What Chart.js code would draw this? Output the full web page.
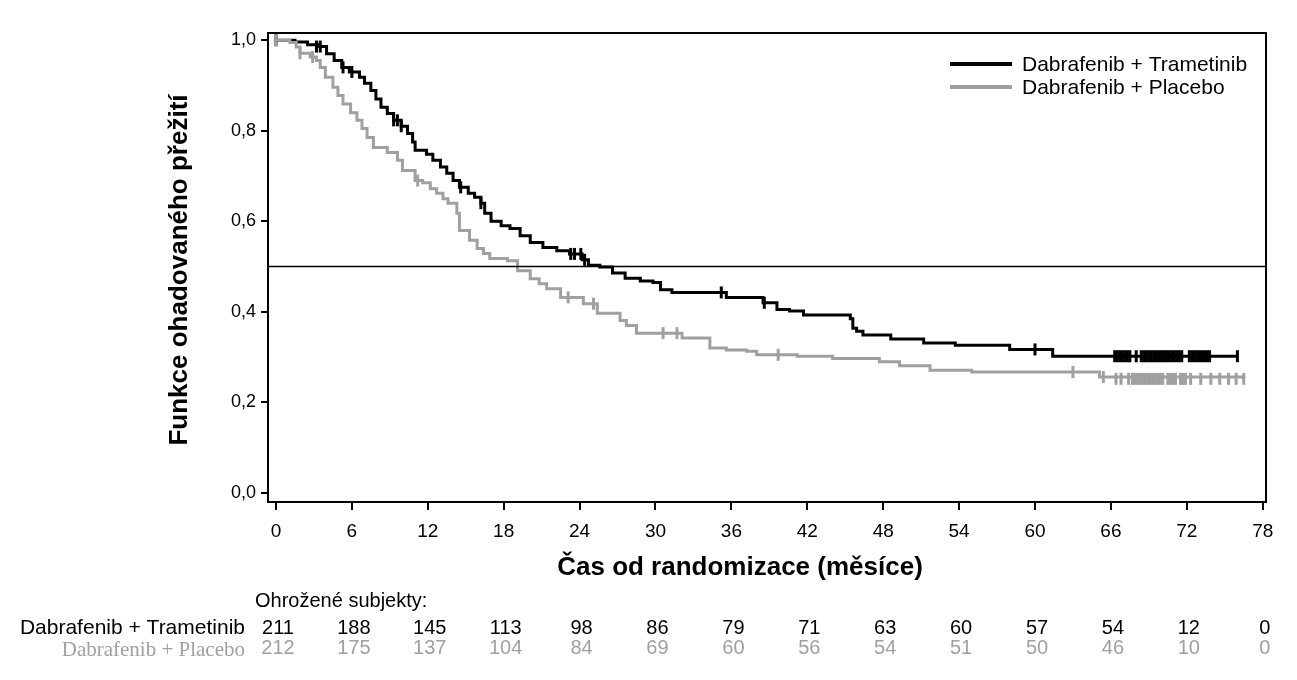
<!DOCTYPE html>
<html>
<head>
<meta charset="utf-8">
<script src="https://cdn.jsdelivr.net/npm/chart.js@4/dist/chart.umd.min.js"></script>
<style>
  html, body { margin: 0; padding: 0; background: #fff; }
  #wrap { width: 1297px; height: 680px; }
</style>
</head>
<body>
<div id="wrap"><canvas id="km" width="1297" height="680"></canvas></div>
<script>
// time axis (months) and risk table
var xTicks = [0, 6, 12, 18, 24, 30, 36, 42, 48, 54, 60, 66, 72, 78];
var yTicks = [0, 0.2, 0.4, 0.6, 0.8, 1.0];
var riskDT = [211, 188, 145, 113, 98, 86, 79, 71, 63, 60, 57, 54, 12, 0];
var riskDP = [212, 175, 137, 104, 84, 69, 60, 56, 54, 51, 50, 46, 10, 0];

// Kaplan-Meier curves: [month, survival]
var curveDT = [[0,1.0],[1.5,0.996],[2.5,0.99],[3.3,0.986],[4.0,0.97],[4.6,0.955],[5.2,0.94],[5.8,0.93],
  [6.6,0.918],[7.0,0.905],[7.5,0.889],[7.9,0.87],[8.3,0.852],[8.8,0.838],[9.3,0.823],[9.9,0.81],
  [10.4,0.794],[10.8,0.775],[11.0,0.757],[11.9,0.748],[12.4,0.735],[13.0,0.72],[13.5,0.706],[14.0,0.69],
  [14.5,0.675],[15.2,0.662],[15.7,0.653],[16.2,0.64],[16.5,0.618],[17.0,0.6],[17.8,0.59],[18.5,0.584],
  [19.3,0.568],[20.1,0.553],[21.1,0.542],[22.2,0.535],[23.2,0.528],[24.2,0.515],[24.7,0.503],[25.6,0.499],
  [26.6,0.486],[27.6,0.474],[28.8,0.468],[29.8,0.465],[30.4,0.449],[31.3,0.443],[35.6,0.432],[38.5,0.42],
  [39.6,0.405],[40.6,0.402],[41.7,0.393],[45.4,0.385],[45.6,0.364],[45.9,0.357],[46.4,0.349],[48.6,0.34],
  [51.2,0.331],[53.7,0.326],[58.0,0.317],[61.4,0.302],[76.0,0.302]];
var curveDP = [[0,1.0],[1.1,0.995],[1.6,0.985],[1.9,0.971],[2.7,0.963],[3.2,0.955],[3.5,0.94],[3.9,0.918],
  [4.5,0.896],[4.9,0.878],[5.3,0.859],[5.9,0.84],[6.4,0.823],[6.8,0.805],[7.2,0.785],[7.7,0.763],
  [8.8,0.752],[9.6,0.735],[10.0,0.712],[11.0,0.69],[11.6,0.685],[12.2,0.672],[12.7,0.662],[13.2,0.65],
  [13.6,0.64],[14.3,0.618],[14.5,0.58],[15.3,0.558],[15.9,0.54],[16.4,0.529],[16.9,0.518],[18.3,0.513],
  [19.1,0.491],[20.1,0.473],[20.8,0.462],[21.4,0.451],[22.5,0.432],[24.3,0.418],[25.4,0.397],[27.2,0.381],
  [27.7,0.37],[28.5,0.353],[32.1,0.342],[34.3,0.32],[35.6,0.316],[37.2,0.313],[38.0,0.305],[41.2,0.302],
  [44.0,0.297],[47.7,0.29],[49.3,0.281],[51.7,0.271],[55.0,0.267],[65.1,0.256],[76.5,0.252]];

// censored observations
var censDT = [[0,1.0],[3.2,0.986],[3.5,0.986],[5.3,0.94],[6.0,0.93],[9.3,0.823],[9.6,0.823],[9.9,0.81],
  [14.6,0.675],[16.2,0.64],[23.3,0.528],[23.6,0.528],[24.1,0.528],[24.4,0.515],[35.2,0.443],[38.6,0.42],
  [60.0,0.317],[66.3,0.302],[66.5,0.302],[66.7,0.302],[66.9,0.302],[67.1,0.302],[67.3,0.302],[67.5,0.302],
  [68.0,0.302],[68.4,0.302],[68.6,0.302],[68.8,0.302],[69.0,0.302],[69.2,0.302],[69.4,0.302],[69.6,0.302],
  [69.8,0.302],[70.0,0.302],[70.2,0.302],[70.4,0.302],[70.6,0.302],[70.8,0.302],[71.0,0.302],[71.2,0.302],
  [71.4,0.302],[71.6,0.302],[72.2,0.302],[72.4,0.302],[72.6,0.302],[72.8,0.302],[73.0,0.302],[73.2,0.302],
  [73.4,0.302],[73.6,0.302],[73.8,0.302],[76.0,0.302]];
var censDP = [[0,1.0],[1.9,0.971],[2.9,0.963],[11.2,0.69],[23.1,0.432],[25.1,0.418],[30.6,0.353],[31.7,0.353],
  [39.7,0.305],[63.0,0.267],[65.4,0.256],[66.4,0.252],[66.8,0.252],[67.4,0.252],[67.7,0.252],[67.9,0.252],
  [68.1,0.252],[68.3,0.252],[68.5,0.252],[68.7,0.252],[68.9,0.252],[69.1,0.252],[69.3,0.252],[69.5,0.252],
  [69.7,0.252],[69.9,0.252],[70.1,0.252],[70.5,0.252],[70.7,0.252],[70.9,0.252],[71.1,0.252],[71.5,0.252],
  [71.7,0.252],[71.9,0.252],[72.3,0.252],[73.1,0.252],[73.9,0.252],[74.6,0.252],[75.3,0.252],[75.9,0.252],
  [76.5,0.252]];

var BLACK = '#000000';
var GREY = '#a0a0a0';
var SANS = '"Liberation Sans", Arial, sans-serif';
var SERIF = '"Liberation Serif", "Times New Roman", serif';
var X_MIN = -0.63, X_MAX = 78.26;

function pts(arr) { return arr.map(function (p) { return { x: p[0], y: p[1] }; }); }

var extras = {
  id: 'extras',
  afterDraw: function (chart) {
    var c = chart.ctx, a = chart.chartArea, xs = chart.scales.x;
    c.save();
    // frame
    c.strokeStyle = BLACK;
    c.lineWidth = 2;
    c.strokeRect(a.left, a.top, a.right - a.left, a.bottom - a.top);

    // legend
    c.lineWidth = 4;
    c.beginPath(); c.moveTo(950, 64); c.lineTo(1012, 64); c.stroke();
    c.strokeStyle = GREY;
    c.beginPath(); c.moveTo(950, 87); c.lineTo(1012, 87); c.stroke();
    c.fillStyle = BLACK;
    c.font = '21px ' + SANS;
    c.textBaseline = 'middle';
    c.textAlign = 'left';
    c.fillText('Dabrafenib + Trametinib', 1022, 65);
    c.fillText('Dabrafenib + Placebo', 1022, 88);

    // axis titles
    c.font = 'bold 26px ' + SANS;
    c.textAlign = 'center';
    c.fillText('Čas od randomizace (měsíce)', 740, 568);
    c.save();
    c.translate(180, 270);
    c.rotate(-Math.PI / 2);
    c.fillText('Funkce ohadovaného přežití', 0, 0);
    c.restore();

    // risk table
    c.font = '20px ' + SANS;
    c.textAlign = 'left';
    c.fillText('Ohrožené subjekty:', 255, 601);
    c.textAlign = 'right';
    c.font = '21px ' + SANS;
    c.fillText('Dabrafenib + Trametinib', 245, 628);
    c.fillStyle = GREY;
    c.font = '21px ' + SERIF;
    c.fillText('Dabrafenib + Placebo', 245, 650);
    c.textAlign = 'center';
    c.font = '20px ' + SANS;
    xTicks.forEach(function (t, i) {
      var px = xs.getPixelForValue(t) + 2;
      c.fillStyle = BLACK;
      c.fillText(String(riskDT[i]), px, 628);
      c.fillStyle = GREY;
      c.fillText(String(riskDP[i]), px, 648);
    });
    c.restore();
  }
};

new Chart(document.getElementById('km'), {
  type: 'line',
  data: {
    datasets: [
      { data: [{ x: X_MIN, y: 0.5 }, { x: X_MAX, y: 0.5 }], borderColor: BLACK, borderWidth: 1.5, pointRadius: 0 },
      { data: pts(curveDP), borderColor: GREY, borderWidth: 3, pointRadius: 0, stepped: 'before' },
      { data: pts(curveDT), borderColor: BLACK, borderWidth: 3, pointRadius: 0, stepped: 'before' },
      { type: 'scatter', data: pts(censDP), showLine: false, pointStyle: 'line', rotation: 90, pointRadius: 6,
        borderColor: GREY, backgroundColor: GREY, pointBorderWidth: 3, clip: false },
      { type: 'scatter', data: pts(censDT), showLine: false, pointStyle: 'line', rotation: 90, pointRadius: 6,
        borderColor: BLACK, backgroundColor: BLACK, pointBorderWidth: 3, clip: false }
    ]
  },
  options: {
    responsive: false,
    animation: false,
    devicePixelRatio: 1,
    layout: { padding: { left: 0, top: 33, right: 31, bottom: 0 } },
    plugins: { legend: { display: false }, tooltip: { enabled: false } },
    scales: {
      x: {
        type: 'linear', min: X_MIN, max: X_MAX,
        afterBuildTicks: function (s) { s.ticks = xTicks.map(function (v) { return { value: v }; }); },
        afterFit: function (s) { s.height = 178; },
        grid: { drawOnChartArea: false, drawTicks: true, tickLength: 8, color: BLACK, lineWidth: 2 },
        border: { display: true, color: BLACK, width: 2 },
        ticks: { color: BLACK, font: { family: SANS, size: 19 }, padding: 10, maxRotation: 0, autoSkip: false }
      },
      y: {
        type: 'linear', min: -0.02, max: 1.016,
        afterBuildTicks: function (s) { s.ticks = yTicks.map(function (v) { return { value: v }; }); },
        afterFit: function (s) { s.width = 268; },
        grid: { drawOnChartArea: false, drawTicks: true, tickLength: 7, color: BLACK, lineWidth: 2 },
        border: { display: true, color: BLACK, width: 2 },
        ticks: {
          color: BLACK, font: { family: SANS, size: 18 }, padding: 5,
          callback: function (v) { return v.toFixed(1).replace('.', ','); }
        }
      }
    }
  },
  plugins: [extras]
});
</script>
</body>
</html>
